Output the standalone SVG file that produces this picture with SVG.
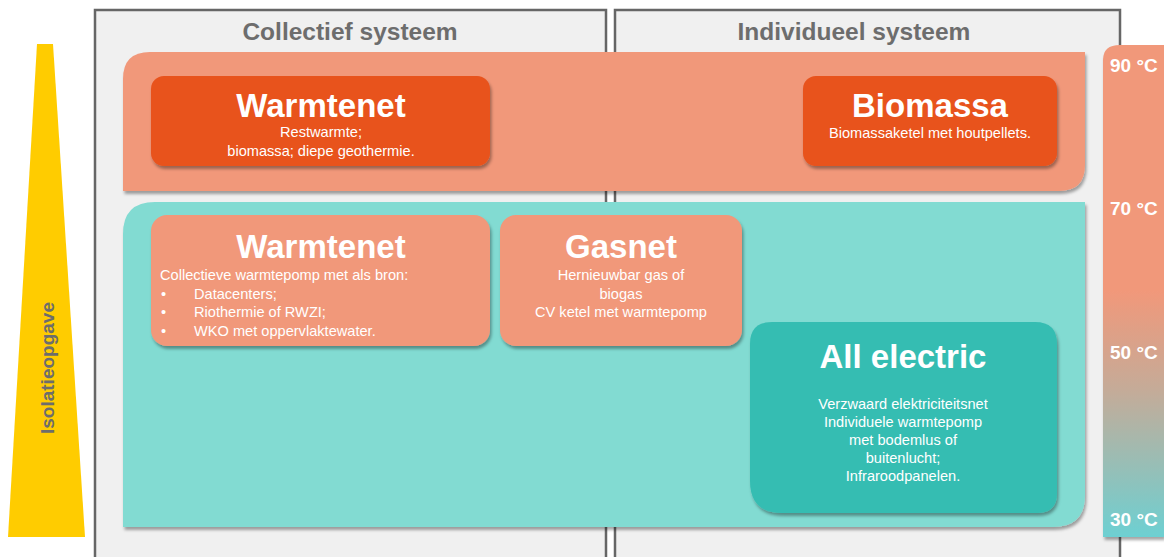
<svg xmlns="http://www.w3.org/2000/svg" width="1164" height="557" viewBox="0 0 1164 557">
<defs>
<filter id="sh" x="-10%" y="-10%" width="120%" height="130%">
<feDropShadow dx="1.5" dy="3" stdDeviation="1.8" flood-color="#000" flood-opacity="0.35"/>
</filter>
<linearGradient id="tg" x1="0" y1="0" x2="0" y2="1">
<stop offset="0" stop-color="#f1987a"/>
<stop offset="0.5" stop-color="#f1987a"/>
<stop offset="0.7" stop-color="#c5ab98"/>
<stop offset="1" stop-color="#6dd0d2"/>
</linearGradient>
<style>
.panel{fill:#f0f0f0;stroke:#666;stroke-width:2.5}
.hdr{font-family:"Liberation Sans",Arial,sans-serif;font-weight:bold;font-size:24.5px;fill:#6d6d6d;text-anchor:middle}
.ttl{font-family:"Liberation Sans",Arial,sans-serif;font-weight:bold;font-size:33px;fill:#fff;text-anchor:middle}
.sub{font-family:"Liberation Sans",Arial,sans-serif;font-size:14.6px;fill:#fff;text-anchor:middle}
.subl{font-family:"Liberation Sans",Arial,sans-serif;font-size:14.6px;fill:#fff}
.tmp{font-family:"Liberation Sans",Arial,sans-serif;font-weight:bold;font-size:19px;fill:#fff}
.dark{fill:#e8521c}
.light{fill:#f1987a}
.teal{fill:#35bdb2}
</style>
</defs>
<g id="yellow-arrow">
<polygon points="37,44 53,44 85,537 8,537" fill="#ffcc00"/>
<text transform="translate(54,368) rotate(-90)" font-family="Liberation Sans,Arial,sans-serif" font-weight="bold" font-size="19" fill="#6d6d6d" text-anchor="middle">Isolatieopgave</text>
</g>
<g id="panel-collectief">
<rect class="panel" x="95" y="10" width="511" height="550"/>
<text class="hdr" x="350" y="40">Collectief systeem</text>
</g>
<g id="panel-individueel">
<rect class="panel" x="615" y="10" width="505" height="550"/>
<text class="hdr" x="854" y="40">Individueel systeem</text>
</g>
<g id="temp-bar">
<path d="M1120,45 H1164 V537 H1103 V60 Q1103,45 1120,45 Z" fill="url(#tg)" filter="url(#sh)"/>
<text class="tmp" x="1110" y="72">90 °C</text>
<text class="tmp" x="1110" y="215">70 °C</text>
<text class="tmp" x="1110" y="359">50 °C</text>
<text class="tmp" x="1110" y="526">30 °C</text>
</g>
<g id="band-high">
<path d="M150,52 H1085 V165 Q1085,191 1059,191 H123 V79 Q123,52 150,52 Z" fill="#f1987a" filter="url(#sh)"/>
</g>
<g id="band-low">
<path d="M155,202 H1085 V495 Q1085,527 1053,527 H123 V234 Q123,202 155,202 Z" fill="#82dbd2" filter="url(#sh)"/>
</g>
<g id="node-warmtenet-high">
<rect class="dark" x="151" y="76" width="339" height="90" rx="13" filter="url(#sh)"/>
<text class="ttl" x="321" y="117">Warmtenet</text>
<text class="sub" x="321" y="137">Restwarmte;</text>
<text class="sub" x="321" y="156">biomassa; diepe geothermie.</text>
</g>
<g id="node-biomassa">
<rect class="dark" x="803" y="76" width="254" height="90" rx="13" filter="url(#sh)"/>
<text class="ttl" x="930" y="117">Biomassa</text>
<text class="sub" x="930" y="138">Biomassaketel met houtpellets.</text>
</g>
<g id="node-warmtenet-low">
<rect class="light" x="151" y="215" width="339" height="131" rx="16" filter="url(#sh)"/>
<text class="ttl" x="321" y="258">Warmtenet</text>
<text class="subl" x="160" y="280">Collectieve warmtepomp met als bron:</text>
<text class="subl" x="161" y="299">•</text>
<text class="subl" x="194" y="299">Datacenters;</text>
<text class="subl" x="161" y="317">•</text>
<text class="subl" x="194" y="317">Riothermie of RWZI;</text>
<text class="subl" x="161" y="336">•</text>
<text class="subl" x="194" y="336">WKO met oppervlaktewater.</text>
</g>
<g id="node-gasnet">
<rect class="light" x="500" y="215" width="242" height="131" rx="16" filter="url(#sh)"/>
<text class="ttl" x="621" y="258">Gasnet</text>
<text class="sub" x="621" y="280">Hernieuwbar gas of</text>
<text class="sub" x="621" y="299">biogas</text>
<text class="sub" x="621" y="317">CV ketel met warmtepomp</text>
</g>
<g id="node-all-electric">
<path class="teal" d="M772,322 H1035 Q1057,322 1057,344 V493 Q1057,513 1037,513 H782 Q750,513 750,481 V344 Q750,322 772,322 Z" filter="url(#sh)"/>
<text class="ttl" x="903" y="368">All electric</text>
<text class="sub" x="903" y="409">Verzwaard elektriciteitsnet</text>
<text class="sub" x="903" y="427">Individuele warmtepomp</text>
<text class="sub" x="903" y="445">met bodemlus of</text>
<text class="sub" x="903" y="463">buitenlucht;</text>
<text class="sub" x="903" y="481">Infraroodpanelen.</text>
</g>
<g id="connectors"></g>
</svg>
